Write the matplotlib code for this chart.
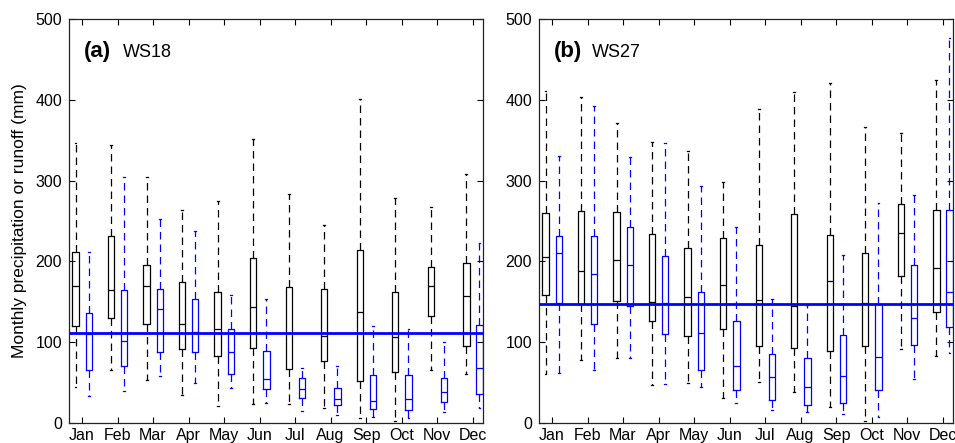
import numpy as np
import matplotlib
matplotlib.use('Agg')
import matplotlib.pyplot as plt

plt.rcParams['font.family'] = ['Liberation Sans', 'DejaVu Sans']

months = ['Jan', 'Feb', 'Mar', 'Apr', 'May', 'Jun',
          'Jul', 'Aug', 'Sep', 'Oct', 'Nov', 'Dec']

# five-number summaries per month: (min, q1, median, q3, max), mm
ws18_precip = [(45, 120, 170, 212, 347), (65, 130, 165, 232, 344), (53, 122, 170, 195, 304),
               (35, 92, 123, 174, 264), (21, 83, 116, 162, 275), (24, 93, 143, 204, 352),
               (24, 67, 111, 168, 284), (19, 77, 108, 166, 245), (6, 52, 137, 214, 401),
               (2, 63, 106, 162, 278), (65, 132, 169, 193, 267), (61, 95, 157, 198, 308)]
ws18_runoff = [(34, 65, 110, 136, 212), (40, 71, 102, 165, 305), (58, 88, 141, 166, 252),
               (50, 88, 113, 153, 238), (43, 61, 88, 116, 158), (25, 42, 54, 89, 153),
               (15, 31, 42, 56, 68), (10, 22, 30, 43, 71), (8, 17, 27, 59, 120),
               (6, 16, 30, 59, 116), (14, 26, 38, 56, 100), (19, 36, 68, 121, 223)]
ws27_precip = [(61, 158, 206, 260, 411), (78, 147, 188, 262, 404), (80, 151, 202, 261, 371),
               (47, 126, 150, 234, 348), (50, 108, 156, 216, 337), (31, 116, 171, 229, 298),
               (51, 95, 152, 220, 388), (38, 93, 145, 259, 410), (20, 89, 176, 233, 421),
               (2, 95, 149, 210, 366), (91, 182, 235, 271, 359), (83, 137, 192, 263, 424)]
ws27_runoff = [(62, 148, 210, 231, 331), (65, 123, 184, 231, 392), (80, 145, 196, 243, 329),
               (48, 110, 148, 207, 347), (45, 66, 111, 162, 293), (25, 41, 71, 126, 243),
               (16, 29, 57, 85, 154), (13, 22, 45, 80, 146), (11, 25, 58, 109, 208),
               (8, 41, 82, 147, 272), (55, 97, 130, 195, 282), (87, 119, 162, 264, 476)]
mean_runoff = [112, 147]

panels = [('(a)', 'WS18', ws18_precip, ws18_runoff),
          ('(b)', 'WS27', ws27_precip, ws27_runoff)]


def make_stats(rows):
    return [dict(whislo=r[0], q1=r[1], med=r[2], q3=r[3], whishi=r[4]) for r in rows]


fig = plt.figure(figsize=(9.55, 4.43), dpi=100)
lefts = [69 / 955, 539 / 955]
pos = np.arange(1, 13)

for i, (tag, name, precip, runoff) in enumerate(panels):
    ax = fig.add_axes([lefts[i], 20 / 443, 414 / 955, 404 / 443])
    for rows, col, off in [(precip, 'black', -0.18), (runoff, 'blue', 0.19)]:
        lp = dict(color=col, linewidth=0.9)
        ax.bxp(make_stats(rows), positions=pos + off, widths=0.18, showfliers=False,
               capwidths=0.05, boxprops=lp, medianprops=lp, capprops=lp,
               whiskerprops=dict(color=col, linewidth=0.9, linestyle=(0, (6, 4))),
               manage_ticks=False)
    ax.axhline(mean_runoff[i], color='blue', linewidth=2.0, zorder=4)
    ax.set_xlim(0.634, 12.29)
    ax.set_ylim(0, 500)
    ax.set_xticks(pos)
    ax.set_xticklabels(months)
    ax.set_yticks(np.arange(0, 501, 100))
    ax.tick_params(direction='in', top=True, right=True, length=4, width=0.8,
                   labelsize=11.5, colors='black')
    ax.tick_params(axis='x', pad=3.5)
    ax.tick_params(axis='y', pad=5)
    for s in ax.spines.values():
        s.set_linewidth(0.9)
        s.set_color('#222222')
    ax.text(0.036, 0.905, tag, transform=ax.transAxes, fontsize=16, fontweight='bold')
    ax.text(0.036 + (0.094 if i == 0 else 0.092), 0.905, name, transform=ax.transAxes,
            fontsize=13)
    if i == 0:
        ax.set_ylabel('Monthly precipitation or runoff (mm)', fontsize=12.5, labelpad=6)

fig.savefig('out.png', dpi=100)
